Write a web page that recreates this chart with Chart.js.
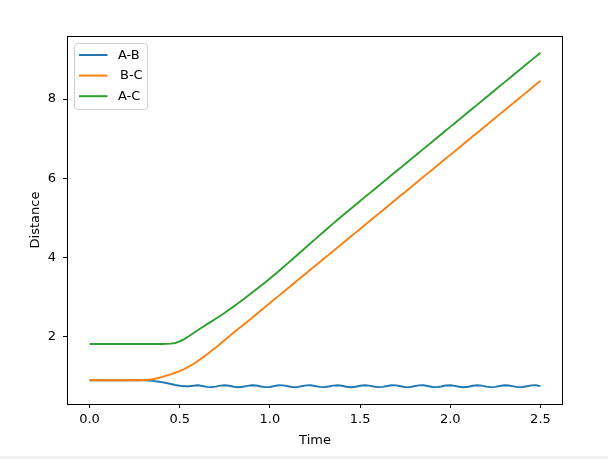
<!DOCTYPE html>
<html>
<head>
<meta charset="utf-8">
<script src="https://cdn.jsdelivr.net/npm/chart.js@4/dist/chart.umd.min.js"></script>
<style>
  html, body { margin: 0; padding: 0; background: #f0f0f0; }
  #wrap { width: 608px; height: 456px; background: #ffffff; }
  canvas { display: block; }
</style>
</head>
<body>
<div id="wrap"><canvas id="c" width="608" height="456"></canvas></div>
<script>
const time = [
  0.000,0.025,0.050,0.075,0.100,0.125,0.150,0.175,0.200,0.225,
  0.250,0.275,0.300,0.325,0.350,0.375,0.400,0.425,0.450,0.475,
  0.500,0.525,0.550,0.575,0.600,0.625,0.650,0.675,0.700,0.725,
  0.750,0.775,0.800,0.825,0.850,0.875,0.900,0.925,0.950,0.975,
  1.000,1.025,1.050,1.075,1.100,1.125,1.150,1.175,1.200,1.225,
  1.250,1.275,1.300,1.325,1.350,1.375,1.400,1.425,1.450,1.475,
  1.500,1.525,1.550,1.575,1.600,1.625,1.650,1.675,1.700,1.725,
  1.750,1.775,1.800,1.825,1.850,1.875,1.900,1.925,1.950,1.975,
  2.000,2.025,2.050,2.075,2.100,2.125,2.150,2.175,2.200,2.225,
  2.250,2.275,2.300,2.325,2.350,2.375,2.400,2.425,2.450,2.475,
  2.500
];

const distAB = [
  0.900,0.900,0.900,0.900,0.900,0.900,0.900,0.900,0.900,0.900,
  0.900,0.900,0.898,0.893,0.884,0.870,0.852,0.830,0.806,0.782,
  0.762,0.750,0.748,
  0.762,0.774,0.756,0.733,0.726,0.741,0.765,0.775,0.762,0.738,
  0.725,0.736,0.760,0.775,0.767,0.743,0.726,0.731,0.754,0.773,
  0.771,0.749,0.728,0.728,0.748,0.770,0.773,0.755,0.732,0.726,
  0.742,0.766,0.775,0.761,0.737,0.725,0.737,0.761,0.775,0.766,
  0.742,0.726,0.732,0.755,0.773,0.770,0.748,0.728,0.728,0.749,
  0.771,0.773,0.754,0.731,0.726,0.743,0.767,0.775,0.760,0.736,
  0.725,0.738,0.762,0.775,0.765,0.741,0.726,0.733,0.756,0.774,
  0.769,0.747,0.727,0.729,0.750,0.771,0.773,0.753
];

const distBC = [
  0.900,0.900,0.900,0.900,0.900,0.900,0.900,0.900,0.900,0.900,
  0.900,0.900,0.905,0.912,0.925,0.950,0.980,1.015,1.050,1.090,
  1.130,1.185,1.245,
  1.310,1.385,1.465,1.550,1.640,1.730,1.820,1.915,2.010,2.105,
  2.200,2.290,2.380,2.470,2.565,2.660,2.755,
  2.850,2.944,3.037,3.131,3.224,3.318,3.411,3.505,3.598,3.692,
  3.785,3.879,3.972,4.066,4.159,4.253,4.346,4.440,4.533,4.627,
  4.720,4.814,4.907,5.001,5.094,5.188,5.281,5.375,5.468,5.562,
  5.655,5.749,5.842,5.936,6.029,6.123,6.216,6.310,6.403,6.497,
  6.590,6.684,6.777,6.871,6.964,7.058,7.151,7.245,7.338,7.432,
  7.525,7.619,7.712,7.806,7.899,7.993,8.086,8.180,8.273,8.367,
  8.460
];

const distAC = [
  1.815,1.815,1.815,1.815,1.815,1.815,1.815,1.815,1.815,1.815,
  1.815,1.815,1.815,1.815,1.815,1.815,1.815,
  1.818,1.826,1.842,1.880,1.940,2.010,2.085,2.165,2.240,2.310,
  2.380,2.455,2.530,2.605,2.685,2.765,2.850,2.935,3.020,
  3.107,3.195,3.284,3.375,
  3.468,3.563,3.660,3.758,3.857,3.957,4.057,4.157,4.257,4.357,
  4.457,4.557,4.657,4.756,4.854,4.951,5.049,
  5.144,5.237,5.331,5.425,5.518,5.612,5.706,5.799,5.893,5.986,
  6.080,6.174,6.267,6.361,6.454,6.548,6.642,6.735,6.829,6.923,
  7.016,7.110,7.203,7.297,7.391,7.484,7.578,7.671,7.765,7.859,
  7.952,8.046,8.140,8.233,8.327,8.420,8.514,8.608,8.701,8.795,
  8.888,8.982,9.076,9.169
];

const seriesLabels = ['A-B', ' B-C', 'A-C'];
const seriesColors = ['#1f77b4', '#ff7f0e', '#2ca02c'];
const xTicks = [0.0, 0.5, 1.0, 1.5, 2.0, 2.5];
const yTicks = [2, 4, 6, 8];
const xLabel = 'Time';
const yLabel = 'Distance';

const FONT = 'DejaVu Sans';
Chart.defaults.font.family = FONT;
Chart.defaults.font.size = 13;
Chart.defaults.color = '#000000';

const seriesData = [distAB, distBC, distAC];
const datasets = seriesData.map((arr, i) => ({
  label: seriesLabels[i],
  data: time.map((t, j) => ({ x: t, y: arr[j] })),
  borderColor: seriesColors[i],
  backgroundColor: seriesColors[i],
  borderWidth: 1.9,
  pointRadius: 0,
  tension: 0,
  fill: false,
  order: 3 - i
}));

const frameAndLegend = {
  id: 'frameAndLegend',
  afterDatasetsDraw(chart) {
    const ctx = chart.ctx;
    const a = chart.chartArea;
    ctx.save();
    ctx.strokeStyle = '#000000';
    ctx.lineWidth = 1;
    ctx.strokeRect(Math.round(a.left) + 0.5, Math.round(a.top) + 0.5,
                   Math.round(a.right - a.left) - 1, Math.round(a.bottom - a.top));
    const bx = Math.round(a.left) + 7.5, by = Math.round(a.top) + 7.5;
    const bw = 73, bh = 66;
    ctx.beginPath();
    if (ctx.roundRect) ctx.roundRect(bx, by, bw, bh, 3); else ctx.rect(bx, by, bw, bh);
    ctx.fillStyle = 'rgba(255,255,255,0.8)';
    ctx.fill();
    ctx.strokeStyle = '#d0d0d0';
    ctx.stroke();
    ctx.font = '13px "' + FONT + '"';
    ctx.textBaseline = 'middle';
    ctx.textAlign = 'left';
    chart.data.datasets.forEach((ds, i) => {
      const yy = by + 11.5 + i * 20.6;
      ctx.beginPath();
      ctx.strokeStyle = ds.borderColor;
      ctx.lineWidth = 2;
      ctx.moveTo(bx + 4.5, yy);
      ctx.lineTo(bx + 33, yy);
      ctx.stroke();
      ctx.fillStyle = '#000000';
      const lead = ds.label.startsWith(' ') ? 2 : 0;
      ctx.fillText(ds.label.trim(), bx + 43.5 + lead, yy + 0.5);
    });
    ctx.restore();
  }
};

new Chart(document.getElementById('c'), {
  type: 'line',
  data: { datasets },
  options: {
    responsive: false,
    animation: false,
    devicePixelRatio: 1,
    layout: { padding: { top: 36, right: 45, bottom: 0, left: 0 } },
    plugins: { legend: { display: false }, tooltip: { enabled: false } },
    scales: {
      x: {
        type: 'linear',
        min: -0.125,
        max: 2.625,
        afterBuildTicks: s => { s.ticks = xTicks.map(v => ({ value: v })); },
        afterFit: s => { s.height = 52; },
        ticks: { padding: 4, maxRotation: 0, autoSkip: false, callback: v => Number(v).toFixed(1) },
        grid: { drawOnChartArea: false, drawTicks: true, tickLength: 4, tickColor: '#000000' },
        border: { display: false },
        title: { display: true, text: xLabel, padding: { top: 8, bottom: 8 } }
      },
      y: {
        type: 'linear',
        min: 0.301,
        max: 9.591,
        afterBuildTicks: s => { s.ticks = yTicks.map(v => ({ value: v })); },
        afterFit: s => { s.width = 67; },
        ticks: { padding: 7, autoSkip: false, callback: v => String(v) },
        grid: { drawOnChartArea: false, drawTicks: true, tickLength: 4, tickColor: '#000000' },
        border: { display: false },
        title: { display: true, text: yLabel, padding: { top: 28, bottom: 28 } }
      }
    }
  },
  plugins: [frameAndLegend]
});
</script>
</body>
</html>
